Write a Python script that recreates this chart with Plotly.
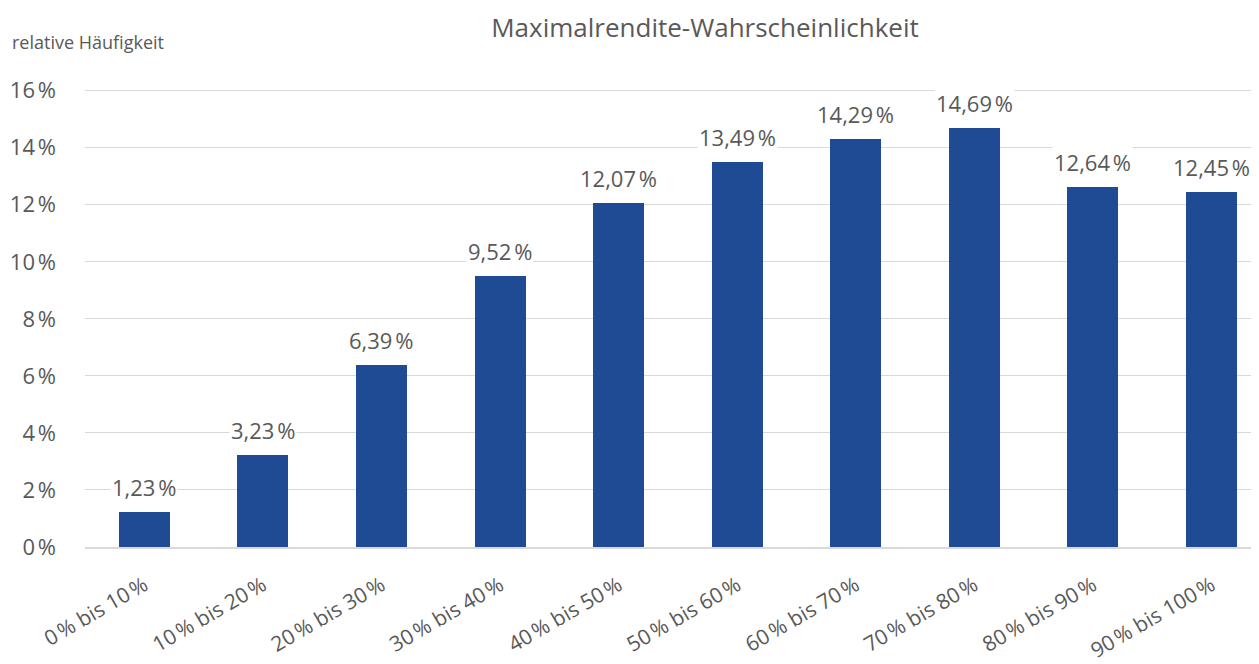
import plotly.graph_objects as go

# Klassen und relative Häufigkeiten
kategorien = ["0\u202f% bis 10\u202f%", "10\u202f% bis 20\u202f%", "20\u202f% bis 30\u202f%",
              "30\u202f% bis 40\u202f%", "40\u202f% bis 50\u202f%", "50\u202f% bis 60\u202f%",
              "60\u202f% bis 70\u202f%", "70\u202f% bis 80\u202f%", "80\u202f% bis 90\u202f%",
              "90\u202f% bis 100\u202f%"]
werte = [1.23, 3.23, 6.39, 9.52, 12.07, 13.49, 14.29, 14.69, 12.64, 12.45]
y_ticks = [0, 2, 4, 6, 8, 10, 12, 14, 16]
y_labels = [f"{t}\u202f%" for t in y_ticks]

grau = "#595959"
schrift = "Open Sans"

fig = go.Figure()
fig.add_trace(go.Bar(x=list(range(len(kategorien))), y=werte,
                     marker=dict(color="#1F4A94", line=dict(width=0)),
                     width=0.43))

# Datenbeschriftungen mit weissem Hintergrund (verdecken die Gitterlinien)
for i, v in enumerate(werte):
    fig.add_annotation(x=i, y=v, text=f"{v:.2f}".replace(".", ",") + "\u202f%",
                       showarrow=False, yanchor="bottom", yshift=8,
                       bgcolor="white", font=dict(size=22, color=grau, family=schrift))

fig.add_annotation(text="relative Häufigkeit", xref="paper", yref="paper",
                   x=-0.064, y=1.093, xanchor="left", yanchor="middle", showarrow=False,
                   font=dict(size=18, color=grau, family=schrift))

fig.update_layout(
    width=1259, height=664,
    title=dict(text="Maximalrendite-Wahrscheinlichkeit", x=0.5536, xanchor="center",
               y=0.97, yanchor="middle", font=dict(size=26, color=grau, family=schrift)),
    plot_bgcolor="white", paper_bgcolor="white",
    margin=dict(l=77, r=8, t=77, b=125),
    showlegend=False,
    bargap=0,
)
fig.update_xaxes(tickmode="array", tickvals=list(range(len(kategorien))), ticktext=kategorien,
                 range=[-0.5, 9.4], tickangle=-30, showgrid=False, automargin=False,
                 showline=True, linecolor="#d9d9d9", linewidth=2,
                 ticklabelstandoff=16,
                 tickfont=dict(size=21, color=grau, family=schrift))
fig.update_yaxes(tickmode="array", tickvals=y_ticks, ticktext=y_labels, range=[0, 16.2],
                 showgrid=True, gridcolor="#d9d9d9", gridwidth=1, zeroline=False,
                 ticklabelstandoff=28, automargin=False,
                 tickfont=dict(size=22, color=grau, family=schrift))

fig.write_html("out.html")
